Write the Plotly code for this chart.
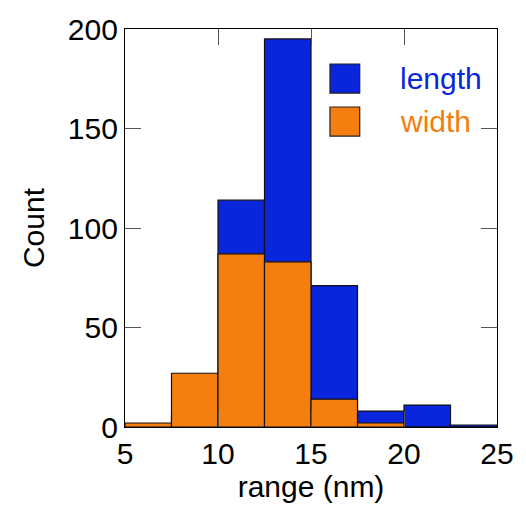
import plotly.graph_objects as go

# Histogram bins (nm), bin width 2.5
bin_edges = [5, 7.5, 10, 12.5, 15, 17.5, 20, 22.5, 25]
length_counts = [1, 6, 114, 195, 71, 8, 11, 1]
width_counts = [2, 27, 87, 83, 14, 2, 0, 0]

x_ticks = [5, 10, 15, 20, 25]
y_ticks = [0, 50, 100, 150, 200]

blue = "#0a26dc"
orange = "#f47e0f"
font_family = "Arial, 'Liberation Sans', sans-serif"
fsize = 30

centers = [(a + b) / 2 for a, b in zip(bin_edges[:-1], bin_edges[1:])]
bin_w = bin_edges[1] - bin_edges[0]

fig = go.Figure()
fig.add_trace(go.Bar(
    x=centers, y=length_counts, width=bin_w, name="length",
    marker=dict(color=blue, line=dict(color="#111111", width=1.2)),
))
fig.add_trace(go.Bar(
    x=centers, y=width_counts, width=bin_w, name="width",
    marker=dict(color=orange, line=dict(color="#111111", width=1.2)),
))

# Legend drawn as boxes with coloured labels
legend_items = [("length", blue, 0.912, 0.839), ("width", orange, 0.804, 0.731)]
for label, color, y1, y0 in legend_items:
    fig.add_shape(type="rect", xref="paper", yref="paper",
                  x0=0.551, x1=0.631, y0=y0, y1=y1,
                  fillcolor=color, line=dict(color="#222222", width=1.2))
    fig.add_annotation(xref="paper", yref="paper", x=0.733, y=(y0 + y1) / 2,
                       text=label, showarrow=False, xanchor="left", yanchor="middle",
                       font=dict(family=font_family, size=fsize, color=color))

axis_common = dict(
    showline=True, linecolor="black", linewidth=1.2, mirror="ticks",
    ticks="inside", ticklen=16, tickwidth=1.2, tickcolor="#555555",
    showgrid=False, zeroline=False,
    tickfont=dict(family=font_family, size=fsize, color="black"),
)

fig.update_layout(
    width=526, height=508,
    margin=dict(l=125, r=22, t=29, b=81),
    paper_bgcolor="white", plot_bgcolor="white",
    barmode="overlay", showlegend=False,
    xaxis=dict(range=[5, 25], tickvals=x_ticks,
               title=dict(text="range (nm)", standoff=0,
                          font=dict(family=font_family, size=fsize, color="black")),
               **axis_common),
    yaxis=dict(range=[0, 200], tickvals=y_ticks,
               title=dict(text="Count", standoff=14,
                          font=dict(family=font_family, size=fsize, color="black")),
               **axis_common),
)

fig.write_html("out.html")
